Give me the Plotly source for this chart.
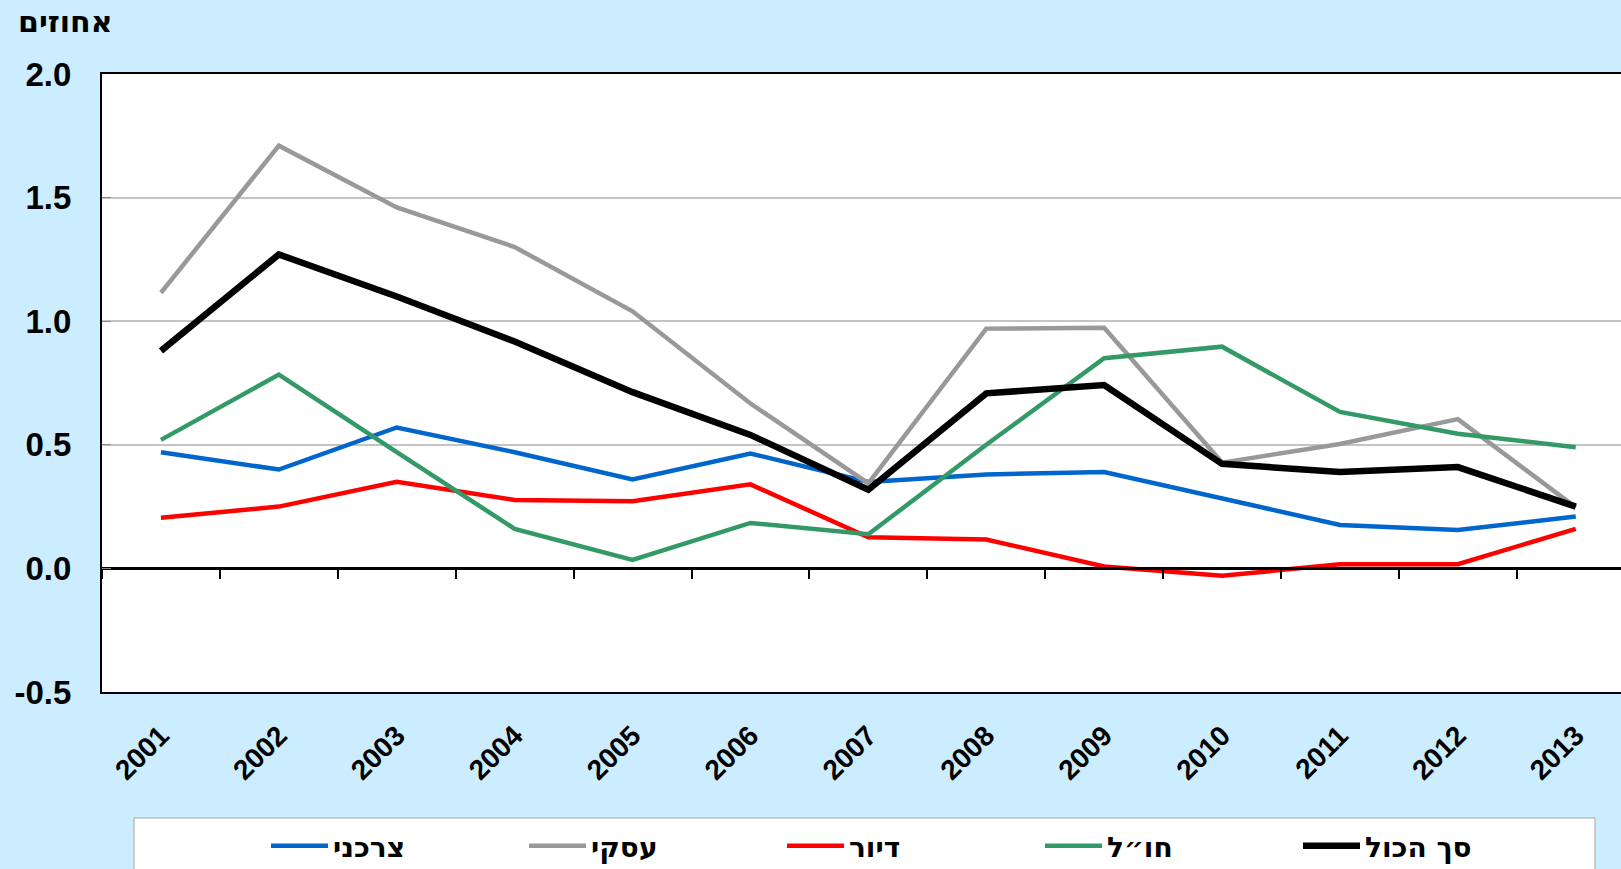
import plotly.graph_objects as go

years = ["2001", "2002", "2003", "2004", "2005", "2006", "2007",
         "2008", "2009", "2010", "2011", "2012", "2013"]

consumer = [0.47, 0.40, 0.57, 0.47, 0.36, 0.465, 0.35, 0.38, 0.39, 0.285, 0.176, 0.155, 0.21]
business = [1.115, 1.71, 1.46, 1.30, 1.04, 0.667, 0.344, 0.97, 0.973, 0.428, 0.503, 0.604, 0.247]
housing = [0.205, 0.25, 0.35, 0.277, 0.272, 0.34, 0.126, 0.117, 0.008, -0.03, 0.017, 0.017, 0.16]
abroad = [0.52, 0.784, 0.47, 0.16, 0.034, 0.184, 0.138, 0.50, 0.85, 0.897, 0.633, 0.545, 0.49]
total = [0.88, 1.27, 1.10, 0.918, 0.713, 0.54, 0.318, 0.708, 0.742, 0.423, 0.39, 0.41, 0.25]

y_tick_vals = [-0.5, 0.0, 0.5, 1.0, 1.5, 2.0]
y_tick_text = ["-0.5", "0.0", "0.5", "1.0", "1.5", "2.0"]

names = ["צרכני", "עסקי", "דיור", "חו״ל", "סך הכול"]
colors = ["#0066CC", "#999999", "#FF0000", "#339966", "#000000"]
widths = [4.5, 4.5, 4.5, 4.5, 6.5]
series = [consumer, business, housing, abroad, total]

W, H = 1621, 869
ML, MT, MB, MR = 102, 74, 177, 0
plot_w = W - ML - MR
plot_h = H - MT - MB
cat_px = 117.9
x_end = plot_w / cat_px - 0.5

fig = go.Figure()
for i, (n, c, w, s) in enumerate(zip(names, colors, widths, series)):
    fig.add_trace(go.Scatter(
        x=years, y=s, name=n, mode="lines",
        line=dict(color=c, width=w),
        xaxis="x2" if i == 4 else "x", yaxis="y",
    ))

num_font = "Liberation Sans"
heb_font = "DejaVu Sans"

fig.update_layout(
    width=W, height=H,
    margin=dict(l=ML, r=MR, t=MT, b=MB, pad=0, autoexpand=False),
    paper_bgcolor="#CCECFF",
    plot_bgcolor="#FFFFFF",
    showlegend=True,
    legend=dict(
        orientation="h",
        x=(266 - ML) / plot_w, xanchor="left",
        y=(MT + plot_h - 846) / plot_h, yanchor="middle",
        bgcolor="rgba(0,0,0,0)", borderwidth=0,
        font=dict(family=heb_font, size=28, color="#000000", weight="bold"),
        entrywidth=186, entrywidthmode="pixels",
        itemwidth=57,
    ),
    xaxis=dict(
        type="category", range=[-0.5, x_end],
        showline=True, linecolor="#000000", linewidth=2, mirror=True,
        ticks="", showgrid=False, zeroline=False,
        tickangle=-45,
        tickfont=dict(family=num_font, size=28, color="#000000", weight="bold"),
        ticklabelstandoff=14,
    ),
    xaxis2=dict(
        type="category", overlaying="x", matches="x", anchor="free", position=0.2,
        side="bottom",
        showline=True, linecolor="#000000", linewidth=2.5,
        ticks="outside", tickson="boundaries", ticklen=9, tickwidth=1.5, tickcolor="#000000",
        showticklabels=False, showgrid=False, zeroline=False,
    ),
    yaxis=dict(
        range=[-0.5, 2.0], tickmode="array", tickvals=y_tick_vals, ticktext=y_tick_text,
        showline=True, linecolor="#000000", linewidth=2,
        showgrid=True, gridcolor="#C4C4C4", gridwidth=1.5,
        zeroline=False,
        ticks="inside", ticklen=9, tickcolor="#888888",
        tickfont=dict(family=num_font, size=33, color="#000000", weight="bold"),
        ticklabelstandoff=22,
    ),
    shapes=[dict(
        type="rect", xref="paper", yref="paper",
        x0=(134 - ML) / plot_w, x1=(1595 - ML) / plot_w,
        y0=(MT + plot_h - 818) / plot_h, y1=-0.5,
        fillcolor="#FFFFFF", line=dict(color="#A6A6A6", width=1), layer="below",
    )],
    annotations=[dict(
        text="אחוזים", xref="paper", yref="paper",
        x=(114 - ML) / plot_w, xanchor="right",
        y=(MT + plot_h - 22) / plot_h, yanchor="middle",
        showarrow=False,
        font=dict(family=heb_font, size=30, color="#000000", weight="bold"),
    )],
)

fig.write_html("out.html", config={"displayModeBar": False},
               post_script="document.body.style.margin='0';")
